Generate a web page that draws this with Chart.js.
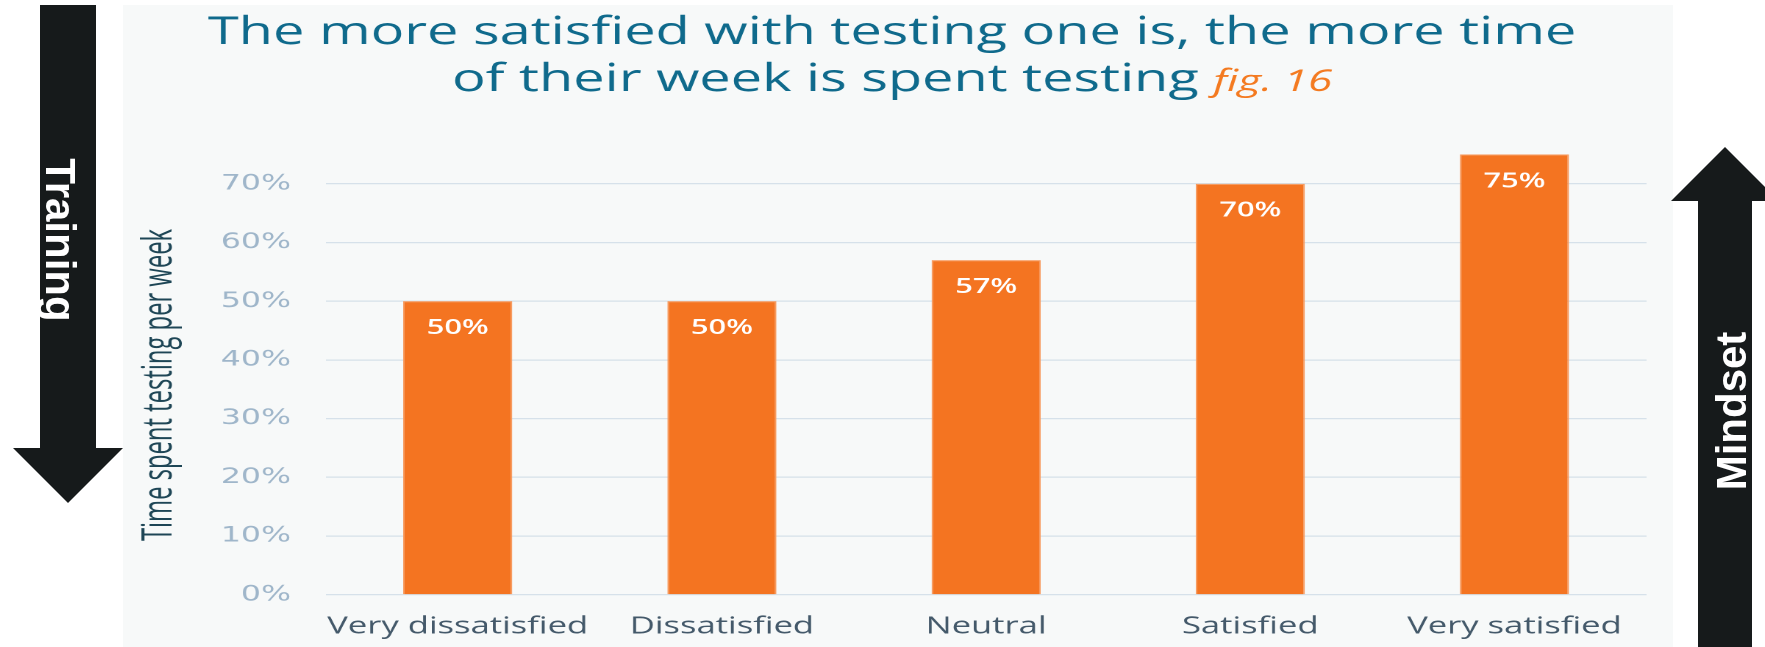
<!DOCTYPE html>
<html>
<head>
<meta charset="utf-8">
<title>fig. 16</title>
<script src="https://cdn.jsdelivr.net/npm/chart.js@4.4.1/dist/chart.umd.min.js"></script>
<style>
  body { margin: 0; background: #ffffff; width: 1765px; height: 647px; overflow: hidden; position: relative; }
  /* the original chart is stretched sideways, so the canvas is too */
  #painel { position: absolute; left: 123px; top: 5px; width: 1054px; height: 642px; transform: scaleX(1.4706); transform-origin: 0 0; }
  #setas { position: absolute; left: 0; top: 0; }
</style>
</head>
<body>
<div id="painel"><canvas id="grafico" width="1054" height="642"></canvas></div>
<svg id="setas" width="1765" height="647">
  <polygon points="40,5 96,5 96,448 123,448 68,503 13,448 40,448" fill="#161a1b"/>
  <text transform="translate(46,240) rotate(90)" text-anchor="middle" fill="#ffffff"
        font-family="Liberation Sans, Arial, sans-serif" font-weight="bold" font-size="42">Training</text>
  <polygon points="1698,647 1698,201 1671,201 1725,147 1779,201 1752,201 1752,647" fill="#161a1b"/>
  <text transform="translate(1746,411) rotate(-90)" text-anchor="middle" fill="#ffffff"
        font-family="Liberation Sans, Arial, sans-serif" font-weight="bold" font-size="42">Mindset</text>
</svg>
<script>
// dados do grafico
const categorias = ['Very dissatisfied', 'Dissatisfied', 'Neutral', 'Satisfied', 'Very satisfied'];
const tempoTeste = [50, 50, 57, 70, 75];
const marcasY = [0, 10, 20, 30, 40, 50, 60, 70];
const tituloLinhas = ['The more satisfied with testing one is, the more time', 'of their week is spent testing'];
const tituloFig = 'fig. 16';
const tituloEixoY = 'Time spent testing per week';

const AZUL = '#0f6a8c';
const LARANJA = '#f47421';

// fundo, titulo, titulo do eixo y e os rotulos das barras
const desenhoExtra = {
  id: 'desenhoExtra',
  beforeDraw(chart) {
    const ctx = chart.ctx;
    ctx.save();
    ctx.fillStyle = '#f7f9f9';
    ctx.fillRect(0, 0, chart.width, chart.height);
    ctx.restore();
  },
  afterDraw(chart) {
    const ctx = chart.ctx;
    const meio = 523;
    ctx.save();

    // titulo linha 1
    ctx.fillStyle = AZUL;
    ctx.font = '38px "Open Sans"';
    ctx.textAlign = 'center';
    ctx.textBaseline = 'alphabetic';
    ctx.fillText(tituloLinhas[0], meio, 39);

    // titulo linha 2 + fig. 16 em laranja
    const fonte2 = '38px "Open Sans"';
    const fonteFig = 'italic 30px "Open Sans"';
    ctx.font = fonte2;
    const w1 = ctx.measureText(tituloLinhas[1] + ' ').width;
    ctx.font = fonteFig;
    const w2 = ctx.measureText(tituloFig).width;
    const x0 = meio - (w1 + w2) / 2;
    ctx.textAlign = 'left';
    ctx.font = fonte2;
    ctx.fillStyle = AZUL;
    ctx.fillText(tituloLinhas[1], x0, 86);
    ctx.font = fonteFig;
    ctx.fillStyle = '#f47a20';
    ctx.fillText(tituloFig, x0 + w1, 86);

    // titulo do eixo y (um pouco estreito)
    ctx.save();
    ctx.translate(33, 380);
    ctx.rotate(-Math.PI / 2);
    ctx.scale(0.85, 1);
    ctx.font = '28px "Open Sans"';
    ctx.fillStyle = '#1e4656';
    ctx.textAlign = 'center';
    ctx.fillText(tituloEixoY, 0, 0);
    ctx.restore();

    // rotulos brancos dentro das barras
    const meta = chart.getDatasetMeta(0);
    ctx.font = '600 21px "Open Sans"';
    ctx.fillStyle = '#ffffff';
    ctx.textAlign = 'center';
    ctx.textBaseline = 'middle';
    meta.data.forEach(function (barra, i) {
      ctx.fillText(tempoTeste[i] + '%', barra.x, barra.y + 27);
    });
    ctx.restore();
  }
};

new Chart(document.getElementById('grafico'), {
  type: 'bar',
  data: {
    labels: categorias,
    datasets: [{
      data: tempoTeste,
      backgroundColor: LARANJA,
      borderColor: '#f89a5e',
      borderWidth: 1,
      barPercentage: 0.413,
      categoryPercentage: 1
    }]
  },
  options: {
    responsive: false,
    animation: false,
    devicePixelRatio: 2,
    layout: { padding: { top: 120, left: 43, right: 18, bottom: 5 } },
    plugins: {
      legend: { display: false },
      tooltip: { enabled: false }
    },
    scales: {
      x: {
        grid: { display: false, drawTicks: true, tickLength: 17 },
        border: { display: false },
        ticks: {
          color: '#44596a',
          font: { family: 'Open Sans', size: 23.5 },
          padding: 1,
          autoSkip: false,
          maxRotation: 0
        }
      },
      y: {
        min: 0,
        max: 80,
        afterBuildTicks: function (eixo) {
          eixo.ticks = marcasY.map(function (v) { return { value: v }; });
        },
        grid: { color: '#d6e1ea', lineWidth: 1.2, drawTicks: false },
        border: { display: false },
        ticks: {
          color: '#9fb6ca',
          font: { family: 'DejaVu Sans', size: 21.5 },
          padding: 23.5,
          callback: function (v) { return v + '%'; }
        }
      }
    }
  },
  plugins: [desenhoExtra]
});
</script>
</body>
</html>
